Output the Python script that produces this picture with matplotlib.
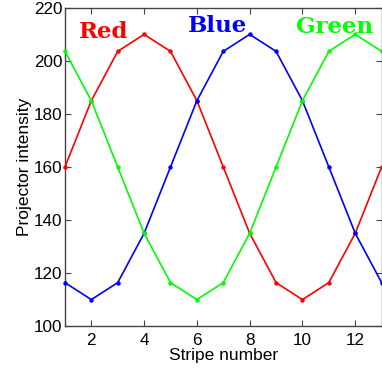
"""
Projector intensity per stripe — three phase-shifted colour channels
"""

import matplotlib

matplotlib.use("Agg")
import matplotlib.pyplot as plt

# ── Data ───────────────────────────────────────────────
stripes = [1, 2, 3, 4, 5, 6, 7, 8, 9, 10, 11, 12, 13]
red = [160, 185, 203.6, 210, 203.6, 185, 160, 135, 116.4, 110, 116.4, 135, 160]
blue = [116.4, 110, 116.4, 135, 160, 185, 203.6, 210, 203.6, 185, 160, 135, 116.4]
green = [203.6, 185, 160, 135, 116.4, 110, 116.4, 135, 160, 185, 203.6, 210, 203.6]

labels = ["Red", "Blue", "Green"]
label_pos = [(2.47, 210.8), (6.77, 213.2), (11.2, 212.8)]
colors = ["#ff0000", "#0000ff", "#00ff00"]

plt.rcParams["font.family"] = ["Liberation Sans", "DejaVu Sans"]

# ── Plot ───────────────────────────────────────────────
fig = plt.figure(figsize=(3.82, 3.74), dpi=100)
ax = fig.add_axes([0.170, 0.128, 0.829, 0.851])

for series, col in zip([red, blue, green], colors):
    ax.plot(stripes, series, color=col, linewidth=1.2, marker="o", markersize=2.2, clip_on=False, zorder=3)

for text, (x, y), col in zip(labels, label_pos, colors):
    ax.text(x, y, text, color=col, fontsize=16.5, fontweight="bold",
            family=["DejaVu Serif"], ha="center", va="center")

ax.set_xlim(1, 13)
ax.set_ylim(100, 220)
ax.set_xticks([2, 4, 6, 8, 10, 12])
ax.set_yticks([100, 120, 140, 160, 180, 200, 220])
ax.tick_params(direction="in", top=True, right=True, labelsize=12.3, length=4, width=0.8,
               color="#444444", pad=2)
ax.tick_params(axis="x", pad=5)
for sp in ax.spines.values():
    sp.set_color("#444444")
    sp.set_linewidth(1.0)

ax.set_xlabel("Stripe number", fontsize=12.5, labelpad=0)
ax.set_ylabel("Projector intensity", fontsize=12.5, labelpad=1)

fig.savefig("out.png", dpi=100, facecolor="white")
plt.close()
